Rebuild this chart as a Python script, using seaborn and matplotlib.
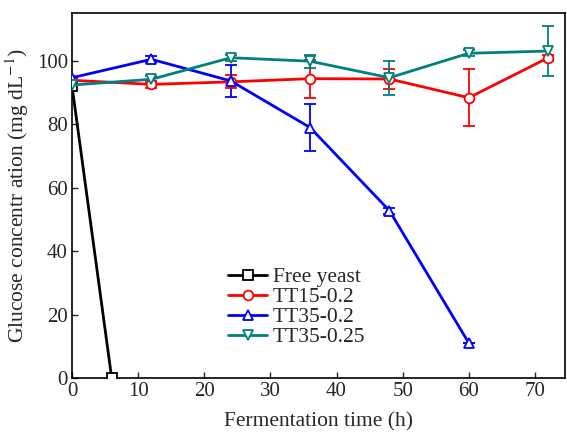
import numpy as np
import pandas as pd
import seaborn as sns
import matplotlib.pyplot as plt

sns.set_theme(style="white")
plt.rcParams["font.family"] = ["Liberation Serif", "DejaVu Serif"]
plt.rcParams["mathtext.fontset"] = "stix"

# Data
time_free = [0, 6]
glucose_free = [92, 0]

time_h = [0, 12, 24, 36, 48, 60, 72]
tt15_02 = [93.8, 92.5, 93.3, 94.3, 94.2, 88.3, 100.9]
tt15_02_err = [0, 1.0, 2.0, 6.0, 3.0, 9.0, 1.0]

time_tt35_02 = [0, 12, 24, 36, 48, 60]
tt35_02 = [94.6, 100.4, 93.6, 78.9, 52.7, 11.0]
tt35_02_err = [0, 1.0, 5.0, 7.5, 1.0, 0]

tt35_025 = [92.3, 94.1, 100.9, 99.8, 94.6, 102.3, 103.0]
tt35_025_err = [0, 1.0, 1.0, 2.0, 5.3, 1.0, 7.8]

series = [
    ("Free yeast", time_free, glucose_free, None, "black", "s"),
    ("TT15-0.2", time_h, tt15_02, tt15_02_err, "#ff0000", "o"),
    ("TT35-0.2", time_tt35_02, tt35_02, tt35_02_err, "#0000ff", "^"),
    ("TT35-0.25", time_h, tt35_025, tt35_025_err, "#008080", "v"),
]

fig = plt.figure(figsize=(5.67, 4.32), dpi=100)
ax = fig.add_axes([0.127, 0.125, 0.869, 0.845])

for name, x, y, err, color, marker in series:
    df = pd.DataFrame({"time": x, "glucose": y})
    if err is not None:
        ax.errorbar(x, y, yerr=err, fmt="none", ecolor=color, elinewidth=1.3,
                    capsize=4, capthick=1.3, zorder=2)
    sns.lineplot(data=df, x="time", y="glucose", ax=ax, color=color,
                 marker=marker, markersize=7, markerfacecolor="white",
                 markeredgecolor=color, markeredgewidth=1.3, linewidth=2,
                 label=name, zorder=3, clip_on=True)

ax.set_xlim(0, 74.5)
ax.set_ylim(0, 115)
ax.set_xticks(np.arange(0, 71, 10))
ax.set_yticks(np.arange(0, 101, 20))
ax.tick_params(axis="both", direction="in", length=4, width=1, labelsize=15,
               bottom=True, left=True, top=False, right=False, pad=3)
for sp in ax.spines.values():
    sp.set_color("black")
    sp.set_linewidth(1.2)

ax.set_xlabel("Fermentation time (h)", fontsize=15.5, labelpad=8)
ax.set_ylabel("Glucose concentr ation (mg dL$^{-1}$)", fontsize=15.5, labelpad=4)

ax.legend(loc="lower left", bbox_to_anchor=(0.3, 0.06), frameon=False,
          fontsize=15.5, handlelength=1.8, handletextpad=0.25, labelspacing=0.0,
          borderaxespad=0)

fig.savefig("out.png", dpi=100)
